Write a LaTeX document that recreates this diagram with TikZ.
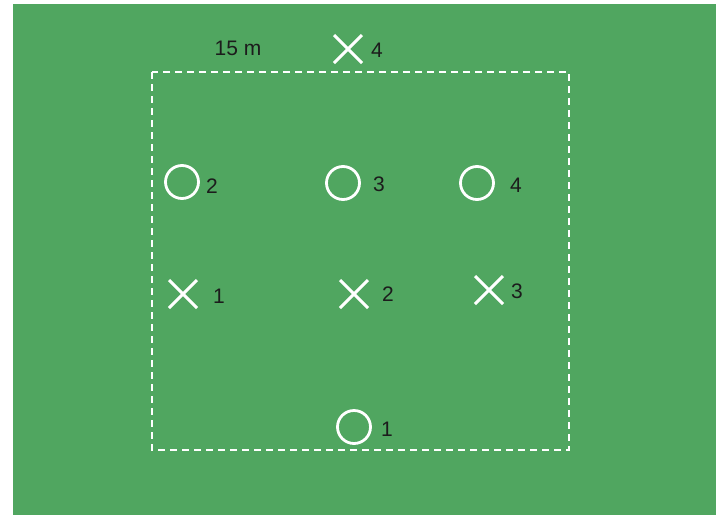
\documentclass[tikz,border=0pt]{standalone}
\usepackage{fontspec}
\setmainfont{Liberation Sans}
\usetikzlibrary{shapes.misc}
\definecolor{pitchG}{RGB}{80,166,96}
\definecolor{numK}{RGB}{28,28,28}

\begin{document}
\begin{tikzpicture}[x=1pt, y=-1pt,
  attk/.style={cross out, draw=white, line width=3pt, minimum size=25pt, inner sep=0pt},
  defn/.style={circle, draw=white, line width=2.8pt, minimum size=33pt, inner sep=0pt},
  num/.style={font=\fontsize{21}{21}\selectfont, text=numK, inner sep=0pt}]

  \useasboundingbox (0,0) rectangle (721,515);
  \fill[pitchG] (13,4) rectangle (716,515);

  % playing area
  \draw[white, line width=2pt, dash pattern=on 7pt off 5pt]
    (152,72) rectangle (569,450);
  \node[num] (dist) at (238,48) {15 m};

  % attackers
  \node[attk] (x4) at (348,49) {};
  \node[attk] (x1) at (183,294) {};
  \node[attk] (x2) at (354,294) {};
  \node[attk] (x3) at (489,290) {};
  \node[num] (nx4) at (377,50) {4};
  \node[num] (nx1) at (219,296) {1};
  \node[num] (nx2) at (388,294) {2};
  \node[num] (nx3) at (517,291) {3};

  % defenders
  \node[defn] (o2) at (182,182) {};
  \node[defn] (o3) at (343,183) {};
  \node[defn] (o4) at (477,183) {};
  \node[defn] (o1) at (354,427) {};
  \node[num] (no2) at (212,186) {2};
  \node[num] (no3) at (379,184) {3};
  \node[num] (no4) at (516,185) {4};
  \node[num] (no1) at (387,429) {1};
\end{tikzpicture}
\end{document}
